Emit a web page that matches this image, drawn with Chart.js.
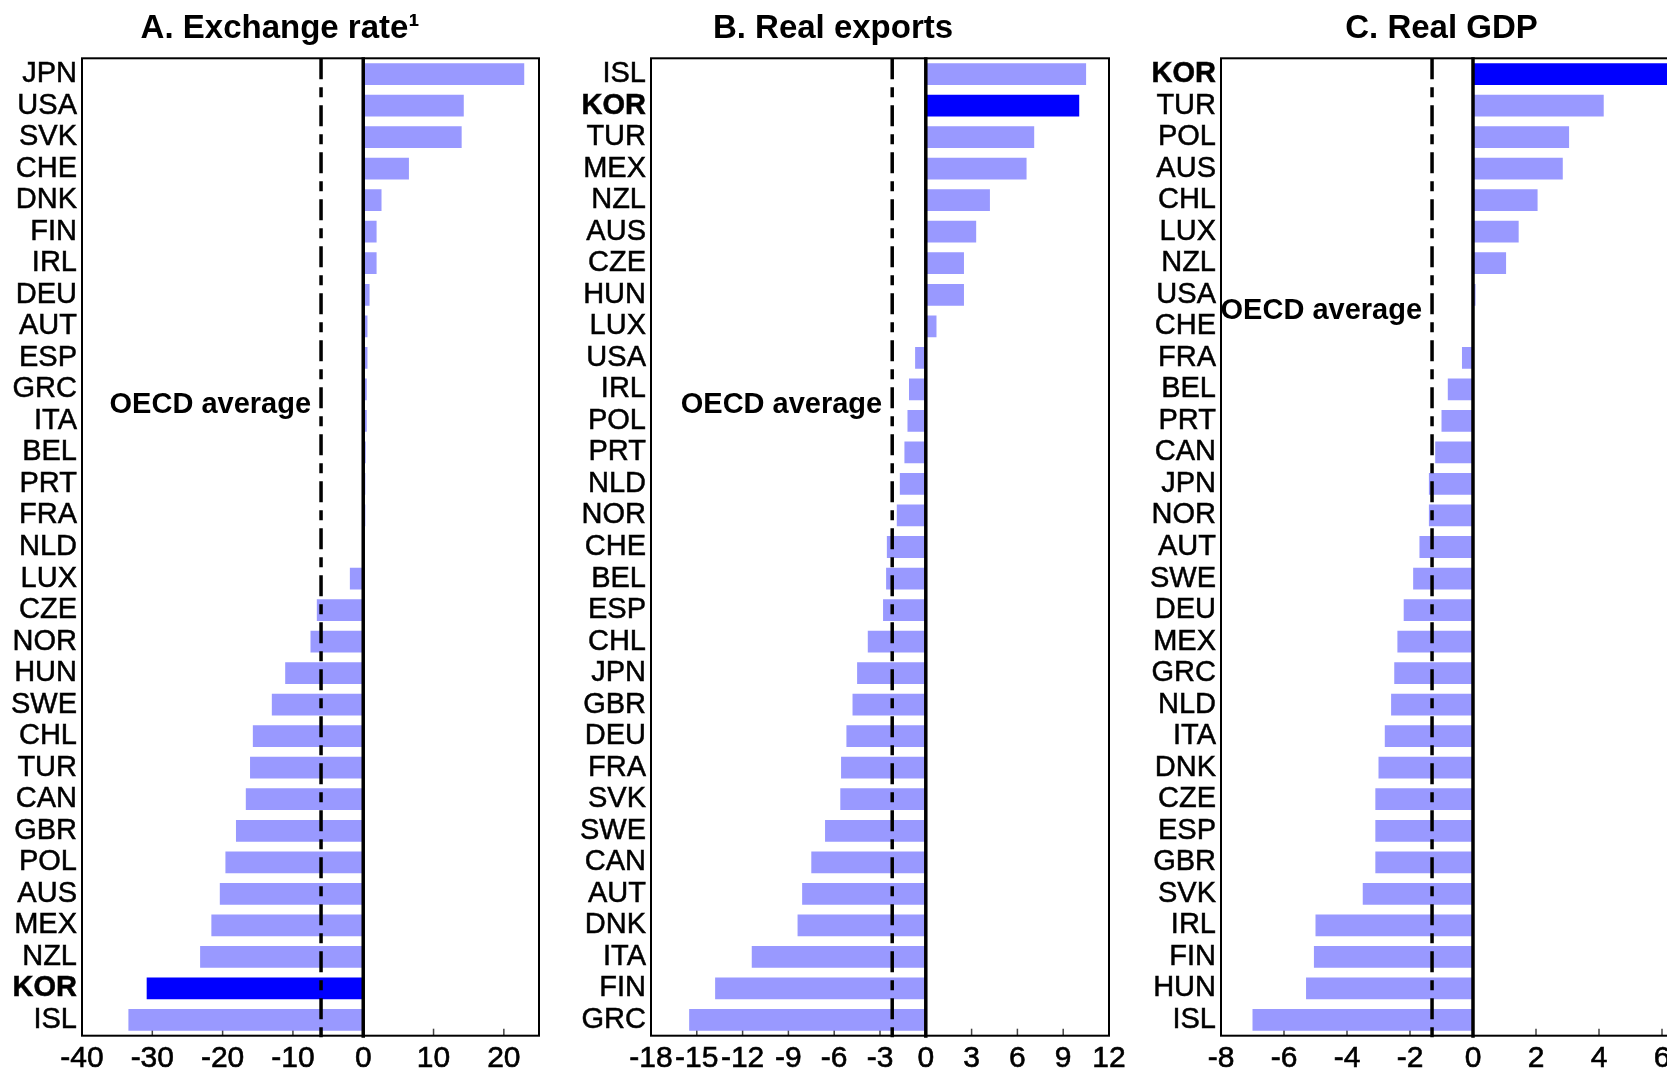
<!DOCTYPE html>
<html><head><meta charset="utf-8">
<script src="https://cdn.jsdelivr.net/npm/chart.js@4/dist/chart.umd.min.js"></script>
<style>
html,body{margin:0;padding:0;background:#fff;overflow:hidden;width:1667px;height:1074px;position:relative;}
.p{position:absolute;top:0;}
canvas{display:block;}
</style></head><body>
<div class="p" style="left:0px"><canvas id="cA" width="560" height="1074" style="width:560px;height:1074px"></canvas></div>
<div class="p" style="left:539px"><canvas id="cB" width="588" height="1074" style="width:588px;height:1074px"></canvas></div>
<div class="p" style="left:1130px"><canvas id="cC" width="623" height="1074" style="width:623px;height:1074px"></canvas></div>
<script>
const FONT = '"Liberation Sans", Arial, Helvetica, sans-serif';

// Panel A: Exchange rate
const catsA = ['JPN','USA','SVK','CHE','DNK','FIN','IRL','DEU','AUT','ESP','GRC','ITA','BEL','PRT','FRA','NLD','LUX','CZE','NOR','HUN','SWE','CHL','TUR','CAN','GBR','POL','AUS','MEX','NZL','KOR','ISL'];
const valsA = [22.9,14.3,14.0,6.5,2.6,1.9,1.9,0.9,0.6,0.6,0.5,0.5,0.35,0.3,0.3,-0.1,-1.9,-6.6,-7.5,-11.1,-13.0,-15.7,-16.1,-16.7,-18.1,-19.6,-20.4,-21.6,-23.2,-30.8,-33.4];
const avgA = -6.0;

// Panel B: Real exports
const catsB = ['ISL','KOR','TUR','MEX','NZL','AUS','CZE','HUN','LUX','USA','IRL','POL','PRT','NLD','NOR','CHE','BEL','ESP','CHL','JPN','GBR','DEU','FRA','SVK','SWE','CAN','AUT','DNK','ITA','FIN','GRC'];
const valsB = [10.5,10.05,7.1,6.6,4.2,3.3,2.5,2.5,0.7,-0.7,-1.1,-1.2,-1.4,-1.7,-1.9,-2.55,-2.6,-2.8,-3.8,-4.5,-4.8,-5.2,-5.55,-5.6,-6.6,-7.5,-8.1,-8.4,-11.4,-13.8,-15.5];
const avgB = -2.2;

// Panel C: Real GDP
const catsC = ['KOR','TUR','POL','AUS','CHL','LUX','NZL','USA','CHE','FRA','BEL','PRT','CAN','JPN','NOR','AUT','SWE','DEU','MEX','GRC','NLD','ITA','DNK','CZE','ESP','GBR','SVK','IRL','FIN','HUN','ISL'];
const valsC = [6.5,4.15,3.05,2.85,2.05,1.45,1.05,0.08,0.02,-0.35,-0.8,-1.0,-1.2,-1.4,-1.4,-1.7,-1.9,-2.2,-2.4,-2.5,-2.6,-2.8,-3.0,-3.1,-3.1,-3.1,-3.5,-5.0,-5.05,-5.3,-7.0];
const avgC = -1.3;

const titles = ['A. Exchange rate\u00B9', 'B. Real exports', 'C. Real GDP'];
const avgLabel = 'OECD average';

function overlay(avg, labelPos) {
  return {
    id: 'overlay',
    beforeDatasetsDraw(chart) {
      const {ctx, chartArea: a, scales: {x}} = chart;
      ctx.save();
      ctx.strokeStyle = '#444'; ctx.lineWidth = 1.5;
      x.ticks.forEach(t => {
        const px = x.getPixelForValue(t.value);
        ctx.beginPath(); ctx.moveTo(px, a.bottom); ctx.lineTo(px, a.bottom - 7); ctx.stroke();
      });
      ctx.restore();
    },
    afterDatasetsDraw(chart) {
      const {ctx, chartArea: a, scales: {x, y}} = chart;
      ctx.save();
      ctx.strokeStyle = '#000';
      ctx.lineWidth = 2;
      ctx.strokeRect(a.left, a.top, a.right - a.left, a.bottom - a.top);
      const xa = x.getPixelForValue(avg);
      ctx.lineWidth = 3.5;
      ctx.setLineDash([21, 8, 10, 8]);
      ctx.beginPath(); ctx.moveTo(xa, a.top); ctx.lineTo(xa, a.bottom + 2); ctx.stroke();
      ctx.setLineDash([]);
      const x0 = x.getPixelForValue(0);
      ctx.beginPath(); ctx.moveTo(x0, a.top - 1); ctx.lineTo(x0, a.bottom + 2); ctx.stroke();
      ctx.font = 'bold 29px ' + FONT;
      ctx.textAlign = 'right'; ctx.textBaseline = 'middle'; ctx.fillStyle = '#000';
      ctx.fillText(avgLabel, xa - 10, y.getPixelForValue(labelPos));
      ctx.restore();
    }
  };
}

function makeChart(id, cats, vals, avg, labPos, xmin, xmax, step, title, yWidth, padR) {
  return new Chart(document.getElementById(id), {
    type: 'bar',
    data: {
      labels: cats,
      datasets: [{
        data: vals,
        backgroundColor: cats.map(c => c === 'KOR' ? '#0000ff' : '#9999ff'),
        barPercentage: 0.69,
        categoryPercentage: 1.0
      }]
    },
    options: {
      indexAxis: 'y',
      responsive: false,
      animation: false,
      devicePixelRatio: 1,
      layout: {padding: 0},
      plugins: {
        legend: {display: false},
        tooltip: {enabled: false},
        title: {
          display: true, text: title, color: '#000',
          font: {family: FONT, size: 33, weight: 'bold'},
          padding: {top: 9.2, bottom: 9.5}
        }
      },
      scales: {
        x: {
          min: xmin, max: xmax,
          grid: {display: false, drawTicks: false},
          border: {display: false},
          ticks: {stepSize: step, includeBounds: false, color: '#000', autoSkip: false, maxRotation: 0,
                  textStrokeColor: '#000', textStrokeWidth: 0.6,
                  font: {family: FONT, size: 30}, padding: 5},
          afterFit(s) { s.height = 38.3; s.paddingLeft = 0; s.paddingRight = 0; }
        },
        y: {
          grid: {display: false, drawTicks: false},
          border: {display: false},
          ticks: {color: '#000', autoSkip: false, padding: 5,
                  textStrokeColor: '#000', textStrokeWidth: 0.5,
                  font: (c) => ({family: FONT, size: 29, weight: cats[c.index] === 'KOR' ? 'bold' : 'normal'})},
          afterFit(s) { s.width = yWidth; }
        },
        gap: {
          type: 'linear', axis: 'y', position: 'right', display: true,
          grid: {display: false, drawTicks: false},
          border: {display: false},
          ticks: {display: false},
          afterFit(s) { s.width = padR; }
        }
      }
    },
    plugins: [overlay(avg, labPos)]
  });
}

makeChart('cA', catsA, valsA, avgA, 10.5, -40, 25, 10, titles[0], 82, 21);
makeChart('cB', catsB, valsB, avgB, 10.5, -18, 12, 3, titles[1], 112, 18);
makeChart('cC', catsC, valsC, avgC, 7.5, -8, 8, 2, titles[2], 91, 28);
</script>
</body></html>
